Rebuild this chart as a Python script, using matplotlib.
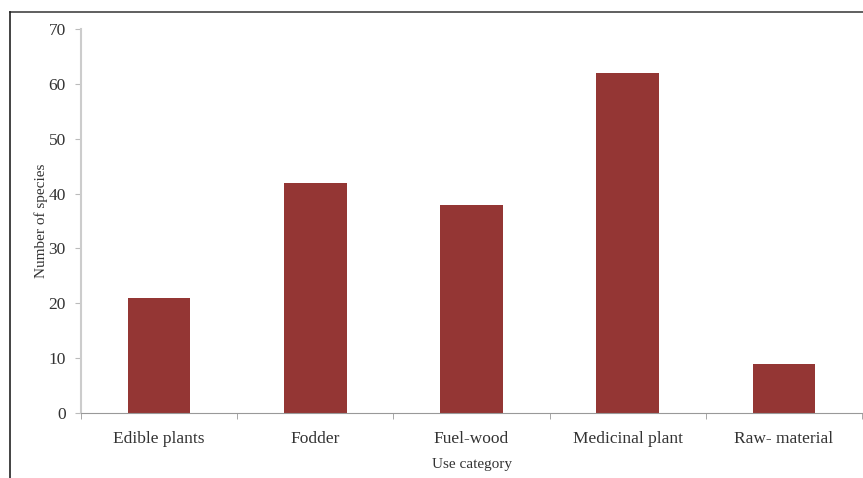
import matplotlib.pyplot as plt
from matplotlib.lines import Line2D
import numpy as np

categories = ['Edible plants', 'Fodder', 'Fuel-wood', 'Medicinal plant', 'Raw- material']
species = [21, 42, 38, 62, 9]

plt.rcParams['font.family'] = 'Liberation Serif'

W, H = 863, 478
fig = plt.figure(figsize=(W / 100, H / 100), dpi=100)
ax = fig.add_axes([81 / W, 1 - 413 / H, (862 - 81) / W, (413 - 29) / H])

x = np.arange(len(categories))
ax.bar(x, species, width=0.4, color='#943634')

ax.set_xlim(-0.5, len(categories) - 0.5)
ax.set_ylim(0, 70)
ax.set_yticks(range(0, 71, 10))
ax.set_xticks(x)
ax.set_xticklabels(categories)
ax.set_xticks(np.arange(-0.5, len(categories), 1), minor=True)
ax.tick_params(axis='x', which='major', length=0, pad=13, labelsize=12.5, colors='#333333')
ax.tick_params(axis='x', which='minor', length=4, color='#999999')
ax.tick_params(axis='y', length=4, color='#bbbbbb', labelsize=12.5, labelcolor='#333333', pad=7)

for s in ['top', 'right']:
    ax.spines[s].set_visible(False)
ax.spines['left'].set_color('#cccccc')
ax.spines['left'].set_linewidth(1.5)
ax.spines['bottom'].set_color('#999999')

ax.set_ylabel('Number of species', fontsize=11, color='#333333', labelpad=0)
ax.set_xlabel('Use category', fontsize=11, color='#333333', labelpad=8)

# outer frame lines (top and left)
fig.add_artist(Line2D([10 / W, 1], [1 - 12 / H, 1 - 12 / H], color='#444444', lw=1.2, transform=fig.transFigure))
fig.add_artist(Line2D([10 / W, 10 / W], [0, 1 - 12 / H], color='#222222', lw=1.2, transform=fig.transFigure))

fig.savefig('out.png', dpi=100)
